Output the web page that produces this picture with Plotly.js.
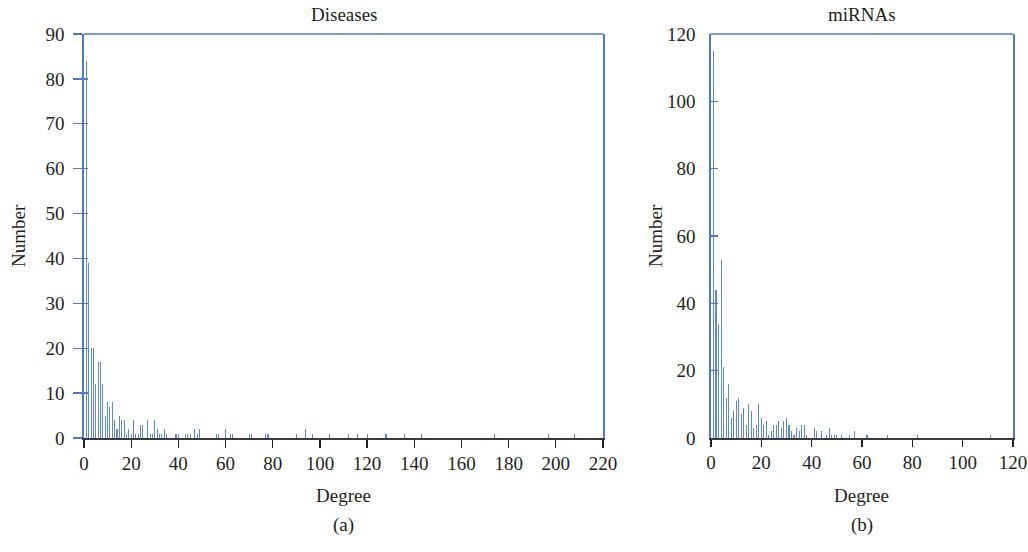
<!DOCTYPE html>
<html><head><meta charset="utf-8">
<script src="https://cdn.plot.ly/plotly-3.0.1.min.js"></script>
<style>html,body{margin:0;padding:0;background:#fff}#chart{width:1028px;height:552px}</style>
</head><body><div id="chart"></div>
<script>
// Diseases degree distribution
const diseaseDegree = [1,2,3,4,5,6,7,8,9,10,11,12,13,14,15,16,17,18,19,20,21,22,23,24,25,27,28,29,30,31,32,33,34,35,39,40,43,44,45,47,48,49,56,57,60,62,63,70,71,77,78,90,94,97,104,112,116,120,128,136,143,174,197,208];
const diseaseCount  = [84,39,20,20,12,17,17,12,5,8,7,8,4,2,5,4,4,1,2,1,4,1,1,3,3,4,1,1,4,2,1,1,2,1,1,1,1,1,1,2,1,2,1,1,2,1,1,1,1,1,1,1,2,1,1,1,1,1,1,1,1,1,1,1];
// miRNAs degree distribution
const mirnaDegree = [1,2,3,4,5,6,7,8,9,10,11,12,13,14,15,16,17,18,19,20,21,22,23,24,25,26,27,28,29,30,31,32,33,34,35,36,37,38,41,42,44,46,47,48,49,50,52,55,57,62,70,82,111];
const mirnaCount  = [115,44,34,53,21,12,16,6,8,11,12,7,9,4,10,8,3,4,10,6,4,5,1,2,4,4,5,3,5,6,4,2,1,3,2,4,4,1,3,2,2,1,3,1,1,1,1,1,2,1,1,1,1];

const xTicksA = [0,20,40,60,80,100,120,140,160,180,200,220];
const yTicksA = [0,10,20,30,40,50,60,70,80,90];
const xTicksB = [0,20,40,60,80,100,120];
const yTicksB = [0,20,40,60,80,100,120];

const blue = '#4f78c6';
const barColor = '#5f87cc';
const font = {family: 'Liberation Serif, Times New Roman, serif', size: 19, color: '#231f20'};

const traces = [
  {type:'bar', x: diseaseDegree, y: diseaseCount, width: 0.45, marker:{color: barColor, line:{width:0}}, xaxis:'x', yaxis:'y', hoverinfo:'x+y'},
  {type:'bar', x: mirnaDegree, y: mirnaCount, width: 0.42, marker:{color: barColor, line:{width:0}}, xaxis:'x2', yaxis:'y2', hoverinfo:'x+y'},
  {type:'scatter', x: [], y: [], xaxis:'x', yaxis:'y3', hoverinfo:'skip'}
];

function xa(domain, ticks, anchor, len){
  return {domain: domain, anchor: anchor, range:[ticks[0], ticks[ticks.length-1]], tickvals: ticks, ticktext: ticks.map(String),
    showline:true, linecolor:'#3a3a3a', linewidth:1.6, ticks:'outside', ticklen:len, tickcolor:'#222', tickwidth:1.3,
    ticklabelstandoff: 0,
    showgrid:false, zeroline:false, tickfont: font, fixedrange:true};
}
function ya(domain, ticks, anchor, tk, len, standoff){
  return {domain: domain, anchor: anchor, range:[ticks[0], ticks[ticks.length-1]], tickvals: ticks, ticktext: ticks.map(String),
    showline:true, mirror:true, linecolor: blue, linewidth:1.6, ticks: tk, ticklen: len, tickcolor: blue, tickwidth:1.3,
    ticklabelstandoff: standoff,
    showgrid:false, zeroline:false, tickfont: font, fixedrange:true};
}

const yDom = [0.2065, 0.9384];
const inner = ya(yDom, yTicksA, 'x', 'inside', 4, 0);
inner.overlaying = 'y'; inner.showline = false; inner.showticklabels = false; inner.mirror = false;

const layout = {
  width:1028, height:552, margin:{l:0,r:0,t:0,b:0},
  paper_bgcolor:'#fff', plot_bgcolor:'#fff', showlegend:false, bargap:0,
  font: font,
  xaxis: xa([0.0817, 0.5866], xTicksA, 'y', 8),
  yaxis: ya(yDom, yTicksA, 'x', 'outside', 9, 5),
  yaxis3: inner,
  xaxis2: xa([0.6916, 0.9854], xTicksB, 'y2', 7),
  yaxis2: ya(yDom, yTicksB, 'x2', 'inside', 7, 10),
  shapes: [
    {type:'line', xref:'x domain', yref:'y domain', x0:0, x1:1, y0:1, y1:1, line:{color:blue, width:1.6}},
    {type:'line', xref:'x2 domain', yref:'y2 domain', x0:0, x1:1, y0:1, y1:1, line:{color:blue, width:1.6}}
  ],
  annotations: [
    {text:'Diseases', xref:'paper', yref:'paper', x:(0.0817+0.5866)/2, y:1-14/552, xanchor:'center', yanchor:'middle', showarrow:false, font:font},
    {text:'miRNAs', xref:'paper', yref:'paper', x:(0.6916+0.9854)/2, y:1-14/552, xanchor:'center', yanchor:'middle', showarrow:false, font:font},
    {text:'Degree', xref:'paper', yref:'paper', x:(0.0817+0.5866)/2, y:1-495/552, xanchor:'center', yanchor:'middle', showarrow:false, font:font},
    {text:'Degree', xref:'paper', yref:'paper', x:(0.6916+0.9854)/2, y:1-495/552, xanchor:'center', yanchor:'middle', showarrow:false, font:font},
    {text:'Number', xref:'paper', yref:'paper', x:18/1028, y:1-236/552, xanchor:'center', yanchor:'middle', textangle:-90, showarrow:false, font:font},
    {text:'Number', xref:'paper', yref:'paper', x:655/1028, y:1-236/552, xanchor:'center', yanchor:'middle', textangle:-90, showarrow:false, font:font},
    {text:'(a)', xref:'paper', yref:'paper', x:(0.0817+0.5866)/2, y:1-525/552, xanchor:'center', yanchor:'middle', showarrow:false, font:font},
    {text:'(b)', xref:'paper', yref:'paper', x:(0.6916+0.9854)/2, y:1-525/552, xanchor:'center', yanchor:'middle', showarrow:false, font:font}
  ]
};
Plotly.newPlot('chart', traces, layout, {displayModeBar:false, staticPlot:true});
</script></body></html>
